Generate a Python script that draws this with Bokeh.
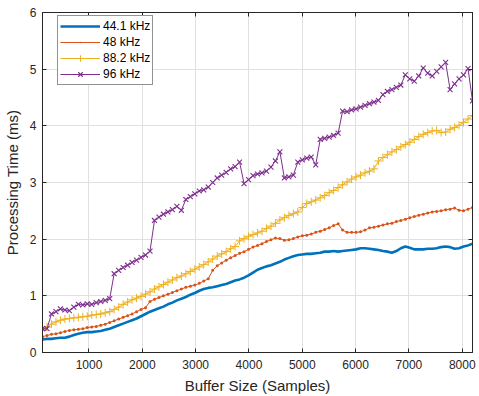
from bokeh.plotting import figure
from bokeh.models import (Range1d, FixedTicker, LinearAxis, Legend, LegendItem,
                          CustomJSTickFormatter)
from bokeh.embed import file_html
from bokeh.resources import INLINE

# ---------------- data ----------------
buffer_sizes = list(range(128, 8193, 84))

t_44k1 = [0.23, 0.24, 0.24, 0.25, 0.26, 0.26, 0.28, 0.31, 0.33, 0.35,
          0.36, 0.36, 0.37, 0.38, 0.40, 0.42, 0.45, 0.48, 0.51, 0.54,
          0.57, 0.60, 0.64, 0.68, 0.72, 0.75, 0.78, 0.81, 0.85, 0.88,
          0.92, 0.95, 0.98, 1.02, 1.05, 1.09, 1.12, 1.14, 1.15, 1.17,
          1.19, 1.21, 1.24, 1.27, 1.29, 1.32, 1.36, 1.41, 1.46, 1.49,
          1.52, 1.54, 1.57, 1.60, 1.64, 1.67, 1.70, 1.72, 1.73, 1.74,
          1.74, 1.75, 1.76, 1.78, 1.78, 1.79, 1.78, 1.79, 1.80, 1.81,
          1.82, 1.84, 1.84, 1.83, 1.82, 1.81, 1.79, 1.78, 1.76, 1.79,
          1.84, 1.87, 1.85, 1.82, 1.82, 1.82, 1.83, 1.83, 1.84, 1.86,
          1.87, 1.86, 1.83, 1.84, 1.87, 1.89, 1.92]

t_48k = [0.28, 0.30, 0.32, 0.33, 0.35, 0.37, 0.39, 0.40, 0.41, 0.42,
         0.44, 0.45, 0.46, 0.48, 0.50, 0.53, 0.56, 0.59, 0.62, 0.65,
         0.68, 0.72, 0.76, 0.79, 0.90, 0.94, 0.97, 1.00, 1.03, 1.06,
         1.09, 1.12, 1.15, 1.17, 1.19, 1.22, 1.26, 1.30, 1.45, 1.53,
         1.58, 1.63, 1.67, 1.71, 1.75, 1.78, 1.82, 1.86, 1.89, 1.92,
         1.96, 1.99, 2.02, 2.01, 1.98, 1.99, 2.01, 2.04, 2.06, 2.07,
         2.09, 2.12, 2.14, 2.17, 2.20, 2.24, 2.27, 2.16, 2.12, 2.12,
         2.12, 2.13, 2.16, 2.20, 2.21, 2.23, 2.25, 2.27, 2.28, 2.31,
         2.33, 2.35, 2.38, 2.40, 2.42, 2.44, 2.46, 2.48, 2.49, 2.50,
         2.52, 2.53, 2.55, 2.51, 2.50, 2.53, 2.56]

t_88k2 = [0.39, 0.45, 0.50, 0.54, 0.57, 0.59, 0.60, 0.61, 0.62, 0.63,
          0.64, 0.66, 0.67, 0.68, 0.70, 0.72, 0.76, 0.80, 0.85, 0.89,
          0.93, 0.96, 0.99, 1.03, 1.07, 1.12, 1.16, 1.20, 1.24, 1.28,
          1.32, 1.35, 1.39, 1.43, 1.47, 1.51, 1.55, 1.60, 1.65, 1.70,
          1.74, 1.78, 1.83, 1.87, 1.97, 2.01, 2.05, 2.08, 2.11, 2.14,
          2.19, 2.23, 2.28, 2.34, 2.38, 2.42, 2.45, 2.48, 2.56, 2.63,
          2.66, 2.69, 2.73, 2.77, 2.82, 2.86, 2.91, 2.96, 3.01, 3.06,
          3.10, 3.13, 3.17, 3.20, 3.24, 3.38, 3.44, 3.49, 3.54, 3.58,
          3.63, 3.67, 3.71, 3.76, 3.81, 3.85, 3.88, 3.91, 3.92, 3.88,
          3.89, 3.94, 3.97, 4.01, 4.06, 4.12, 4.18]

t_96k = [0.42, 0.42, 0.68, 0.72, 0.77, 0.75, 0.74, 0.80, 0.85, 0.84,
         0.86, 0.85, 0.88, 0.90, 0.92, 0.95, 1.39, 1.45, 1.50, 1.54,
         1.59, 1.63, 1.68, 1.72, 1.79, 2.33, 2.39, 2.44, 2.48, 2.52,
         2.58, 2.51, 2.70, 2.75, 2.80, 2.85, 2.87, 2.92, 3.00, 3.08,
         3.13, 3.18, 3.24, 3.28, 3.36, 2.98, 3.05, 3.12, 3.15, 3.17,
         3.20, 3.27, 3.38, 3.54, 3.08, 3.10, 3.13, 3.36, 3.40, 3.43,
         3.45, 3.31, 3.76, 3.78, 3.80, 3.83, 3.87, 4.26, 4.25, 4.28,
         4.30, 4.33, 4.36, 4.39, 4.42, 4.45, 4.55, 4.61, 4.64, 4.68,
         4.72, 4.90, 4.83, 4.79, 4.88, 5.02, 4.93, 4.88, 4.96, 5.04,
         5.12, 4.64, 4.74, 4.83, 4.90, 5.01, 4.44]

series_labels = ["44.1 kHz", "48 kHz", "88.2 kHz", "96 kHz"]
x_ticks = [1000, 2000, 3000, 4000, 5000, 6000, 7000, 8000]
y_ticks = [0, 1, 2, 3, 4, 5, 6]

# ---------------- styling ----------------
FONT = "Liberation Sans"
AX = "#262626"
GRID = "#e0e0e0"
colors = ["#0072BD", "#D95319", "#EDB120", "#7E2F8E"]

p = figure(width=479, height=396, output_backend="svg", toolbar_location=None,
           x_range=Range1d(128, 8192), y_range=Range1d(0, 6),
           min_border_left=41, min_border_right=7, min_border_top=12,
           min_border_bottom=44)
p.background_fill_color = "white"
p.border_fill_color = "white"
p.outline_line_color = AX
p.outline_line_width = 1

for ax in (p.xaxis[0], p.yaxis[0]):
    ax.axis_line_color = AX
    ax.major_tick_line_color = AX
    ax.major_tick_in = 4
    ax.major_tick_out = 0
    ax.minor_tick_line_color = None
    ax.major_label_text_font = FONT
    ax.major_label_text_font_size = "12px"
    ax.major_label_text_color = AX
    ax.axis_label_text_font = FONT
    ax.axis_label_text_font_size = "15px"
    ax.axis_label_text_font_style = "normal"
    ax.axis_label_text_color = AX

p.xaxis.ticker = FixedTicker(ticks=x_ticks)
p.yaxis.ticker = FixedTicker(ticks=y_ticks)
p.xaxis.axis_label = "Buffer Size (Samples)"
p.yaxis.axis_label = "Processing Time (ms)"
p.xaxis.major_label_standoff = 7
p.xaxis.axis_label_standoff = 5
p.yaxis.major_label_standoff = 6
p.yaxis.axis_label_standoff = 6

blank = CustomJSTickFormatter(code="return ''")
top_ax = LinearAxis(ticker=FixedTicker(ticks=x_ticks), formatter=blank,
                    major_tick_in=4, major_tick_out=0, major_label_standoff=0,
                    minor_tick_line_color=None, axis_line_color=AX,
                    major_tick_line_color=AX, major_label_text_font_size="1px")
right_ax = LinearAxis(ticker=FixedTicker(ticks=y_ticks), formatter=blank,
                      major_tick_in=4, major_tick_out=0, major_label_standoff=0,
                      minor_tick_line_color=None, axis_line_color=AX,
                      major_tick_line_color=AX, major_label_text_font_size="1px")
p.add_layout(top_ax, "above")
p.add_layout(right_ax, "right")

p.xgrid.ticker = FixedTicker(ticks=x_ticks)
p.ygrid.ticker = FixedTicker(ticks=y_ticks)
p.xgrid.grid_line_color = GRID
p.ygrid.grid_line_color = GRID

# ---------------- series ----------------
items = []
r0 = p.line(buffer_sizes, t_44k1, line_color=colors[0], line_width=2.6)
items.append(LegendItem(label=series_labels[0], renderers=[r0]))

r1 = p.line(buffer_sizes, t_48k, line_color=colors[1], line_width=1)
s1 = p.scatter(buffer_sizes, t_48k, marker="dot", size=12,
               line_color=colors[1], fill_color=colors[1], line_width=1)
items.append(LegendItem(label=series_labels[1], renderers=[r1, s1]))

r2 = p.line(buffer_sizes, t_88k2, line_color=colors[2], line_width=1)
s2 = p.scatter(buffer_sizes, t_88k2, marker="cross", size=8,
               line_color=colors[2], line_width=1)
items.append(LegendItem(label=series_labels[2], renderers=[r2, s2]))

r3 = p.line(buffer_sizes, t_96k, line_color=colors[3], line_width=1)
s3 = p.scatter(buffer_sizes, t_96k, marker="x", size=7,
               line_color=colors[3], line_width=1.1)
items.append(LegendItem(label=series_labels[3], renderers=[r3, s3]))

legend = Legend(items=items, location=(15, 267))
legend.label_text_font = FONT
legend.label_text_font_size = "12px"
legend.label_text_color = "black"
legend.glyph_width = 40
legend.glyph_height = 16
legend.label_height = 16
legend.label_standoff = 3
legend.spacing = 0
legend.padding = 2
legend.margin = 0
legend.border_line_color = AX
legend.border_line_width = 1
legend.background_fill_color = "white"
legend.background_fill_alpha = 1
p.add_layout(legend, "center")

open("out.html", "w").write(file_html(p, INLINE))
